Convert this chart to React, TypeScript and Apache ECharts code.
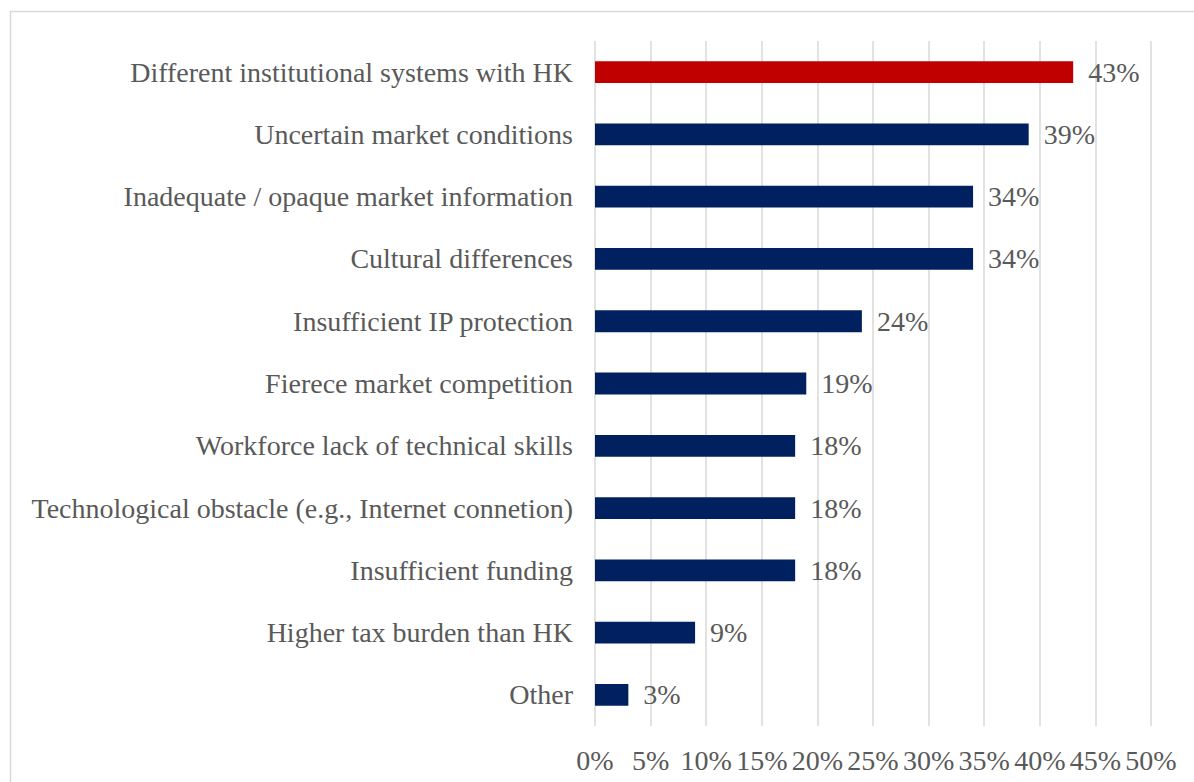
import React, { useEffect, useRef } from "react";
import * as echarts from "echarts";

const categories = [
  "Different institutional systems with HK",
  "Uncertain market conditions",
  "Inadequate / opaque market information",
  "Cultural differences",
  "Insufficient IP protection",
  "Fierece market competition",
  "Workforce lack of technical skills",
  "Technological obstacle (e.g., Internet connetion)",
  "Insufficient funding",
  "Higher tax burden than HK",
  "Other",
];
const values = [43, 39, 34, 34, 24, 19, 18, 18, 18, 9, 3];
const highlightIndex = 0;

const FONT = "'Liberation Serif', 'Times New Roman', serif";
const GRAY = "#595959";

export default function App() {
  const ref = useRef<HTMLDivElement>(null);
  useEffect(() => {
    if (!ref.current) return;
    const chart = echarts.init(ref.current, undefined, { renderer: "svg" });
    chart.setOption({
      animation: false,
      backgroundColor: "#ffffff",
      textStyle: { fontFamily: FONT },
      graphic: [
        {
          type: "rect",
          shape: { x: 10.5, y: 11.5, width: 1300, height: 900 },
          style: { fill: "none", stroke: "#d9d9d9", lineWidth: 1.5 },
          silent: true,
        },
      ],
      grid: { left: 595, right: 43, top: 41, bottom: 56 },
      xAxis: {
        type: "value",
        min: 0,
        max: 50,
        interval: 5,
        axisLine: { show: false },
        axisTick: { show: false },
        splitLine: { show: true, lineStyle: { color: "#d9d9d9", width: 1.5 } },
        axisLabel: {
          formatter: "{value}%",
          color: GRAY,
          fontSize: 28,
          fontFamily: FONT,
          margin: 20,
          interval: 0,
          hideOverlap: false,
        },
      },
      yAxis: {
        type: "category",
        data: categories,
        inverse: true,
        axisLine: { show: false },
        axisTick: { show: false },
        axisLabel: { color: GRAY, fontSize: 28, fontFamily: FONT, margin: 22, interval: 0 },
      },
      series: [
        {
          type: "bar",
          data: values.map((v, i) => ({
            value: v,
            itemStyle: { color: i === highlightIndex ? "#C00000" : "#002060" },
          })),
          barCategoryGap: "65%",
          label: {
            show: true,
            position: "right",
            distance: 15,
            formatter: "{c}%",
            color: GRAY,
            fontSize: 28,
            fontFamily: FONT,
          },
        },
      ],
    });
    return () => chart.dispose();
  }, []);
  return (
    <div
      ref={ref}
      style={{ position: "absolute", left: 0, top: 0, width: 1194, height: 782 }}
    />
  );
}
